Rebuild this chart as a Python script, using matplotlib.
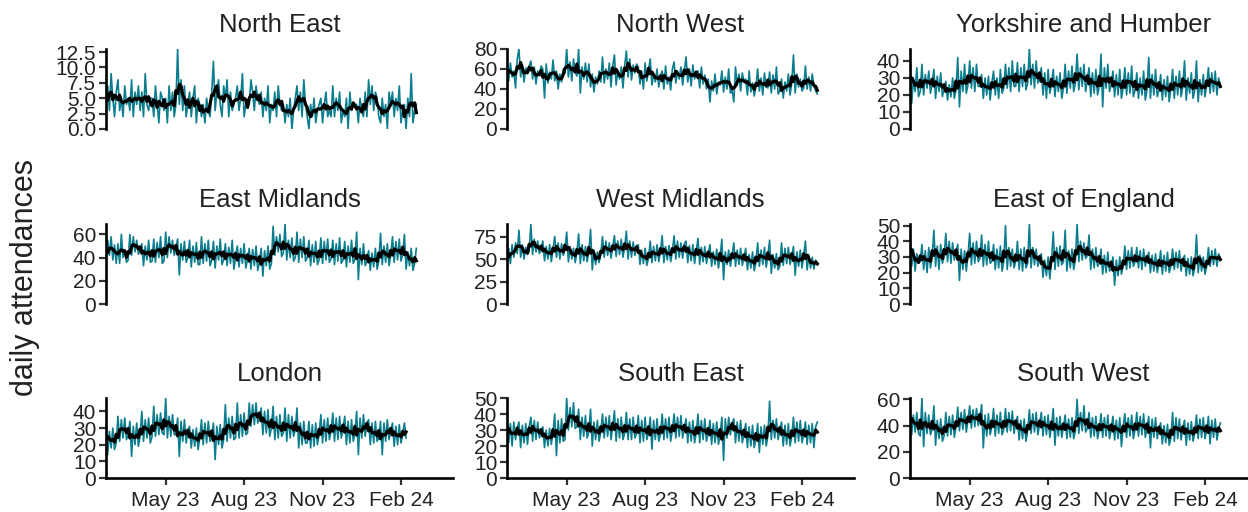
import matplotlib
matplotlib.use("Agg")
import matplotlib.pyplot as plt
import numpy as np
import pandas as pd

plt.rcParams['font.family'] = ['Liberation Sans', 'DejaVu Sans']

# values, one point every 2 days from 20 Feb 2023
regions = ["North East", "North West", "Yorkshire and Humber",
           "East Midlands", "West Midlands", "East of England",
           "London", "South East", "South West"]

north_east = [4, 7, 3, 9, 5, 2, 6, 8, 3, 5, 2, 7, 4, 5, 3, 8, 2, 6, 4, 7, 3,
              6, 2, 9, 4, 3, 5, 5, 2, 7, 4, 1, 6, 5, 3, 5, 1, 7, 3, 6, 2, 4,
              13, 4, 8, 3, 7, 2, 4, 6, 2, 5, 7, 1, 5, 4, 2, 4, 1, 5, 3, 2, 6,
              11, 3, 6, 8, 4, 2, 7, 5, 8, 2, 6, 3, 4, 5, 7, 3, 5, 9, 2, 4, 4,
              4, 8, 6, 3, 7, 5, 4, 6, 2, 5, 3, 7, 1, 4, 3, 6, 2, 7, 4, 3, 4,
              1, 4, 2, 5, 0, 3, 5, 7, 3, 6, 2, 8, 4, 2, 0, 4, 2, 5, 1, 3, 4,
              5, 1, 4, 6, 2, 3, 2, 7, 2, 5, 3, 6, 1, 3, 2, 5, 0, 6, 3, 4, 4,
              4, 1, 5, 3, 2, 6, 2, 8, 4, 7, 3, 6, 5, 2, 1, 5, 2, 4, 0, 6, 4,
              6, 2, 5, 3, 7, 1, 3, 4, 0, 5, 2, 9, 1, 3, 4]
north_west = [62, 48, 66, 52, 58, 41, 70, 80, 52, 64, 47, 61, 55, 63,
              68, 50, 62, 45, 58, 53, 63, 60, 31, 65, 46, 57, 50, 69,
              48, 58, 40, 55, 47, 60, 56, 80, 52, 67, 48, 70, 57, 53,
              80, 36, 62, 50, 66, 47, 65, 42, 55, 37, 52, 45, 58, 47,
              72, 46, 60, 50, 66, 42, 63, 74, 44, 58, 50, 62, 41, 63,
              78, 52, 70, 49, 64, 56, 65, 62, 45, 58, 40, 66, 48, 59,
              70, 44, 55, 47, 60, 42, 53, 58, 40, 63, 45, 52, 39, 60,
              67, 46, 58, 50, 62, 44, 58, 72, 47, 60, 43, 64, 50, 56,
              58, 41, 62, 45, 54, 40, 50, 27, 48, 38, 55, 35, 47, 44,
              58, 37, 52, 40, 60, 36, 39, 27, 62, 44, 55, 38, 56, 47,
              50, 34, 58, 37, 46, 33, 43, 60, 38, 51, 34, 56, 42, 41,
              57, 36, 54, 40, 62, 35, 38, 50, 31, 47, 38, 55, 34, 46,
              74, 36, 55, 42, 50, 38, 41, 63, 40, 52, 38, 55, 43, 38, 35]
yorkshire = [45, 15, 30, 22, 36, 19, 22, 38, 20, 32, 24, 34, 21, 27,
             35, 18, 31, 22, 33, 19, 24, 28, 17, 26, 19, 30, 18, 23,
             42, 13, 34, 22, 38, 21, 26, 40, 24, 36, 22, 38, 25, 25,
             32, 18, 30, 20, 31, 17, 27, 34, 20, 30, 18, 35, 21, 24,
             38, 24, 36, 22, 40, 25, 25, 39, 22, 36, 25, 38, 23, 27,
             47, 26, 38, 24, 40, 27, 29, 36, 20, 33, 18, 35, 21, 26,
             35, 19, 31, 22, 33, 18, 24, 38, 21, 34, 24, 37, 22, 27,
             44, 23, 36, 25, 38, 22, 29, 36, 19, 33, 21, 35, 20, 25,
             44, 13, 36, 24, 38, 22, 26, 34, 19, 32, 20, 35, 18, 24,
             36, 20, 33, 21, 37, 19, 23, 33, 18, 30, 20, 34, 17, 23,
             42, 18, 32, 20, 35, 19, 23, 32, 17, 29, 19, 31, 16, 24,
             35, 18, 31, 20, 34, 19, 25, 40, 17, 30, 21, 33, 18, 23,
             40, 16, 29, 20, 32, 19, 26, 36, 21, 33, 22, 34, 20, 30, 25]
east_midlands = [36, 55, 42, 58, 38, 51, 35, 52, 35, 60, 40, 47, 36, 38,
                 60, 42, 58, 45, 55, 43, 47, 52, 33, 50, 38, 55, 36, 37,
                 56, 36, 53, 40, 58, 35, 37, 62, 40, 58, 44, 55, 42, 49,
                 56, 25, 52, 38, 54, 36, 40, 55, 32, 50, 36, 53, 34, 34,
                 58, 35, 52, 37, 55, 33, 38, 54, 31, 50, 38, 56, 34, 38,
                 52, 33, 49, 35, 55, 30, 40, 50, 32, 48, 35, 52, 31, 39,
                 48, 30, 47, 33, 50, 29, 36, 48, 24, 46, 33, 50, 30, 35,
                 67, 42, 58, 45, 60, 41, 44, 69, 38, 55, 40, 57, 37, 40,
                 62, 36, 56, 40, 58, 37, 40, 55, 33, 51, 36, 54, 34, 38,
                 57, 35, 54, 38, 56, 36, 39, 55, 34, 52, 37, 57, 35, 38,
                 54, 32, 50, 36, 55, 35, 39, 62, 21, 48, 34, 52, 33, 37,
                 46, 29, 44, 32, 48, 30, 37, 61, 34, 50, 36, 52, 33, 42,
                 58, 36, 54, 38, 56, 37, 43, 60, 30, 45, 33, 48, 29, 35, 48]
west_midlands = [50, 62, 45, 66, 52, 68, 56, 82, 52, 66, 50, 63, 55, 59,
                 89, 55, 72, 58, 70, 56, 62, 70, 48, 64, 50, 66, 47, 61,
                 75, 52, 68, 50, 67, 54, 61, 80, 47, 64, 50, 62, 46, 57,
                 78, 45, 66, 48, 64, 47, 58, 83, 38, 60, 44, 58, 46, 56,
                 75, 52, 70, 54, 68, 51, 64, 76, 53, 70, 55, 72, 52, 63,
                 81, 50, 70, 52, 69, 54, 65, 66, 44, 60, 45, 62, 43, 51,
                 70, 46, 64, 48, 66, 47, 58, 76, 46, 64, 49, 65, 47, 59,
                 76, 50, 70, 52, 68, 51, 67, 70, 46, 65, 48, 66, 45, 59,
                 73, 44, 63, 47, 64, 45, 56, 66, 42, 58, 44, 61, 40, 53,
                 72, 27, 58, 44, 60, 42, 54, 68, 42, 60, 44, 62, 43, 52,
                 62, 38, 55, 40, 58, 37, 46, 68, 42, 60, 44, 63, 41, 53,
                 71, 34, 55, 40, 56, 38, 42, 68, 43, 62, 45, 63, 44, 53,
                 64, 32, 58, 42, 60, 40, 54, 70, 38, 55, 40, 52, 39, 49, 46]
east_england = [45, 24, 35, 21, 32, 26, 27, 38, 22, 34, 20, 36, 23, 30,
                47, 24, 37, 22, 38, 26, 30, 45, 27, 40, 26, 39, 28, 33,
                38, 15, 35, 22, 34, 21, 31, 45, 25, 39, 26, 40, 27, 29,
                44, 24, 38, 25, 40, 26, 27, 38, 22, 35, 23, 37, 21, 27,
                50, 22, 36, 24, 35, 23, 27, 40, 22, 35, 21, 36, 23, 26,
                51, 23, 36, 25, 35, 24, 30, 32, 17, 28, 18, 30, 16, 27,
                46, 22, 36, 24, 37, 25, 27, 47, 21, 34, 23, 35, 22, 28,
                51, 27, 40, 28, 39, 29, 31, 44, 22, 35, 23, 36, 24, 26,
                35, 19, 31, 20, 33, 21, 23, 30, 12, 28, 18, 30, 19, 24,
                37, 22, 34, 23, 36, 24, 27, 36, 23, 34, 22, 35, 24, 29,
                33, 20, 31, 21, 32, 20, 25, 34, 19, 31, 21, 33, 20, 24,
                35, 22, 33, 23, 34, 21, 28, 31, 18, 29, 19, 30, 18, 23,
                44, 20, 31, 21, 30, 19, 24, 36, 24, 34, 25, 35, 24, 32, 29]
london = [33, 14, 28, 18, 30, 17, 21, 37, 22, 35, 24, 36, 23, 26,
          34, 13, 31, 20, 33, 19, 25, 40, 22, 35, 24, 36, 21, 25,
          43, 25, 38, 26, 39, 27, 26, 48, 24, 37, 25, 38, 26, 26,
          36, 13, 34, 22, 35, 21, 28, 31, 18, 29, 19, 30, 17, 24,
          35, 20, 33, 21, 34, 22, 24, 33, 11, 31, 20, 32, 18, 23,
          44, 22, 36, 24, 37, 23, 24, 45, 24, 38, 25, 39, 26, 27,
          45, 31, 44, 32, 45, 33, 36, 42, 26, 40, 27, 41, 25, 30,
          43, 23, 37, 24, 38, 25, 27, 42, 22, 38, 24, 37, 25, 29,
          42, 18, 33, 20, 34, 21, 21, 34, 18, 32, 19, 33, 20, 26,
          38, 21, 35, 22, 36, 23, 28, 39, 22, 36, 23, 37, 24, 29,
          37, 20, 34, 21, 35, 22, 27, 40, 14, 36, 24, 38, 25, 33,
          35, 20, 33, 21, 34, 22, 24, 34, 14, 33, 22, 35, 23, 28,
          33, 19, 31, 20, 32, 21, 26, 33, 24]
south_east = [37, 22, 34, 20, 35, 24, 31, 35, 19, 33, 22, 34, 21, 32,
              38, 23, 36, 24, 35, 25, 29, 32, 19, 30, 20, 31, 21, 29,
              40, 14, 36, 22, 37, 23, 24, 50, 30, 44, 32, 47, 31, 32,
              43, 24, 38, 26, 39, 25, 29, 43, 20, 35, 24, 36, 23, 29,
              40, 25, 38, 26, 39, 24, 32, 42, 23, 37, 25, 38, 24, 28,
              41, 24, 37, 24, 38, 25, 28, 39, 22, 36, 23, 38, 24, 28,
              38, 18, 36, 24, 37, 23, 27, 40, 24, 37, 25, 38, 23, 30,
              40, 25, 38, 26, 39, 25, 31, 37, 22, 35, 23, 36, 22, 28,
              40, 22, 36, 24, 37, 23, 28, 36, 21, 34, 22, 35, 21, 27,
              38, 11, 37, 25, 38, 27, 34, 37, 22, 35, 23, 36, 22, 28,
              34, 19, 32, 20, 33, 19, 25, 34, 16, 32, 21, 33, 20, 26,
              48, 24, 36, 25, 37, 24, 30, 35, 20, 33, 21, 34, 20, 26,
              38, 22, 35, 23, 36, 22, 27, 35, 21, 33, 22, 34, 19, 32, 35]
south_west = [55, 33, 48, 35, 50, 34, 32, 61, 24, 50, 34, 48, 33, 37,
              55, 25, 44, 30, 45, 28, 32, 50, 32, 47, 33, 48, 31, 39,
              54, 36, 50, 37, 52, 35, 44, 55, 38, 52, 39, 53, 40, 45,
              56, 23, 48, 32, 49, 33, 39, 53, 32, 48, 34, 50, 33, 37,
              53, 35, 50, 36, 51, 34, 42, 47, 29, 44, 30, 45, 28, 36,
              52, 34, 49, 35, 50, 33, 41, 50, 32, 47, 33, 48, 31, 39,
              53, 25, 46, 32, 47, 31, 39, 48, 30, 45, 31, 46, 30, 36,
              60, 34, 50, 36, 55, 35, 38, 50, 31, 46, 32, 47, 30, 37,
              49, 31, 46, 32, 48, 30, 37, 47, 29, 44, 30, 46, 24, 39,
              49, 31, 46, 32, 48, 30, 37, 50, 32, 47, 33, 49, 31, 38,
              47, 23, 45, 31, 46, 30, 37, 42, 26, 40, 27, 41, 25, 30,
              50, 28, 46, 30, 45, 29, 38, 44, 25, 42, 29, 43, 28, 34,
              48, 30, 45, 31, 46, 30, 36, 47, 26, 44, 31, 45, 29, 37, 42]

series = [north_east, north_west, yorkshire, east_midlands, west_midlands,
          east_england, london, south_east, south_west]

y_ticks = [[0, 2.5, 5, 7.5, 10, 12.5], [0, 20, 40, 60, 80], [0, 10, 20, 30, 40],
           [0, 20, 40, 60], [0, 25, 50, 75], [0, 10, 20, 30, 40, 50],
           [0, 10, 20, 30, 40], [0, 10, 20, 30, 40, 50], [0, 20, 40, 60]]

x_tick_dates = ["2023-05-01", "2023-08-01", "2023-11-01", "2024-02-01"]
x_tick_labels = ["May 23", "Aug 23", "Nov 23", "Feb 24"]

start = pd.Timestamp("2023-02-20")
x_end = start + pd.Timedelta(days=407)

W, H = 1248, 512
col_left = [106, 507, 910]
row_top = [49, 224, 398]
pw, ph = 347, 80

teal = '#0b7d8e'
txt = '#222222'

fig = plt.figure(figsize=(W / 100, H / 100), dpi=100)

for i, (name, vals) in enumerate(zip(regions, series)):
    r, c = divmod(i, 3)
    ax = fig.add_axes([col_left[c] / W, 1 - (row_top[r] + ph) / H, pw / W, ph / H])
    s = pd.Series(vals, index=pd.date_range(start, periods=len(vals), freq='2D'))
    smooth = s.rolling(4, center=True, min_periods=1).mean()
    ax.plot(s.index, s.values, color=teal, lw=1.2)
    ax.plot(smooth.index, smooth.values, color='black', lw=2.3)

    ax.set_xlim(start, x_end)
    ax.set_ylim(0, max(vals))
    ticks = y_ticks[i]
    ax.set_yticks(ticks)
    if any(t != int(t) for t in ticks):
        ax.set_yticklabels([f"{t:.1f}" for t in ticks])
    else:
        ax.set_yticklabels([str(int(t)) for t in ticks])

    for sp in ['top', 'right']:
        ax.spines[sp].set_visible(False)
    ax.spines['left'].set_linewidth(1.9)
    ax.spines['bottom'].set_linewidth(1.9)
    ax.tick_params(axis='y', length=5, width=1.6, color='#333333',
                   labelsize=15, labelcolor=txt, pad=2)
    if r == 2:
        ax.set_xticks([pd.Timestamp(d) for d in x_tick_dates])
        ax.set_xticklabels(x_tick_labels)
        ax.tick_params(axis='x', length=5, width=1.6, color='#333333',
                       labelsize=15, labelcolor=txt, pad=4)
    else:
        ax.spines['bottom'].set_visible(False)
        ax.tick_params(axis='x', bottom=False, labelbottom=False)

    ax.text(0.5, 1 + 24 / ph, name, transform=ax.transAxes, ha='center',
            va='center', fontsize=18.5, color=txt)

fig.text(25 / W, 1 - 277 / H, "daily attendances", rotation=90,
         ha='center', va='center', fontsize=22, color=txt)

fig.savefig("out.png", dpi=100)
